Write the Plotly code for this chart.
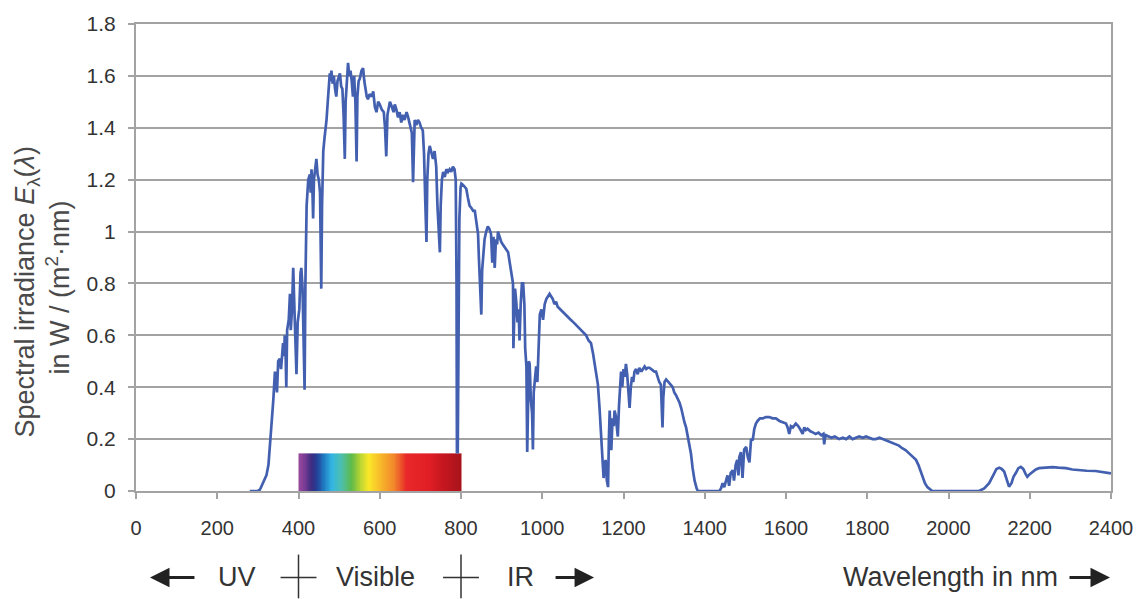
import numpy as np
import plotly.graph_objects as go

# ---- data: AM1.5 spectral irradiance ----
wavelength_nm = [
    280, 300, 305, 312, 321, 326, 329, 333, 338, 342, 345, 347, 350, 354, 357, 360, 362, 365, 366, 368,
    370, 372, 376, 379, 381, 384, 387, 390, 392, 395, 398, 402, 405, 407, 410, 413, 415, 417, 420, 424,
    428, 430, 432, 434, 436, 438, 441, 444, 447, 450, 453, 455, 456, 458, 461, 464, 467, 469, 472, 475,
    477, 479, 481, 484, 487, 490, 493, 496, 499, 502, 505, 508, 511, 514, 516, 519, 522, 525, 528, 531,
    534, 537, 540, 543, 545, 548, 551, 555, 559, 562, 565, 568, 571, 575, 580, 584, 588, 592, 596, 600,
    605, 610, 613, 616, 619, 622, 625, 630, 634, 637, 641, 645, 649, 653, 657, 661, 666, 670, 675, 679,
    682, 684, 686, 690, 694, 698, 702, 706, 709, 712, 715, 717, 720, 723, 727, 731, 735, 739, 742, 745,
    748, 750, 753, 756, 760, 764, 768, 772, 776, 780, 784, 787, 789, 790, 792, 794, 796, 799, 801, 805,
    809, 813, 817, 821, 826, 830, 834, 838, 842, 844, 846, 848, 850, 852, 855, 858, 862, 866, 870, 874,
    877, 880, 883, 886, 889, 891, 895, 899, 903, 908, 912, 916, 920, 924, 928, 929, 931, 933, 936, 939,
    942, 944, 947, 950, 953, 956, 958, 961, 963, 965, 967, 969, 972, 975, 977, 979, 982, 985, 988, 991,
    994, 998, 1002, 1006, 1010, 1014, 1018, 1022, 1026, 1030, 1034, 1038, 1044, 1050, 1056, 1063, 1070, 1077, 1083, 1090,
    1096, 1102, 1108, 1114, 1120, 1125, 1129, 1133, 1137, 1141, 1145, 1149, 1151, 1153, 1156, 1159, 1162, 1164, 1166, 1168,
    1170, 1173, 1176, 1178, 1181, 1184, 1186, 1189, 1192, 1194, 1197, 1200, 1203, 1206, 1209, 1212, 1215, 1218, 1221, 1224,
    1227, 1231, 1235, 1239, 1244, 1248, 1252, 1256, 1260, 1264, 1268, 1272, 1276, 1280, 1284, 1288, 1292, 1294, 1296, 1298,
    1301, 1305, 1308, 1312, 1316, 1321, 1325, 1329, 1334, 1338, 1342, 1346, 1350, 1354, 1358, 1362, 1366, 1370, 1375, 1380,
    1383, 1400, 1420, 1436, 1440, 1444, 1448, 1452, 1456, 1460, 1464, 1469, 1472, 1476, 1480, 1483, 1485, 1489, 1493, 1497,
    1502, 1506, 1510, 1514, 1518, 1522, 1526, 1530, 1536, 1543, 1550, 1559, 1567, 1575, 1584, 1592, 1600, 1604, 1608, 1612,
    1617, 1624, 1630, 1636, 1641, 1645, 1649, 1653, 1660, 1667, 1673, 1680, 1687, 1692, 1694, 1696, 1698, 1705, 1712, 1720,
    1731, 1740, 1748, 1756, 1764, 1772, 1780, 1789, 1797, 1805, 1813, 1821, 1830, 1838, 1846, 1854, 1862, 1870, 1878, 1886,
    1895, 1903, 1912, 1920, 1926, 1932, 1936, 1942, 1948, 1953, 1960, 2000, 2075, 2088, 2100, 2110, 2118, 2125, 2131, 2137,
    2143, 2149, 2155, 2160, 2166, 2172, 2178, 2184, 2190, 2194, 2200, 2207, 2215, 2223, 2235, 2245, 2256, 2270, 2289, 2305,
    2321, 2340, 2362, 2380, 2400,
]
irradiance = [
    0.0, 0.0, 0.005, 0.03, 0.06, 0.1, 0.157, 0.25, 0.35, 0.46, 0.42, 0.38, 0.50, 0.51, 0.47, 0.56, 0.57, 0.52, 0.60, 0.55,
    0.40, 0.62, 0.66, 0.76, 0.62, 0.70, 0.86, 0.70, 0.55, 0.45, 0.65, 0.70, 0.84, 0.86, 0.78, 0.50, 0.39, 0.80, 1.10, 1.20,
    1.22, 1.15, 1.24, 1.18, 1.05, 1.20, 1.25, 1.28, 1.22, 1.20, 1.15, 0.90, 0.78, 1.10, 1.31, 1.36, 1.40, 1.43, 1.50, 1.55,
    1.61, 1.58, 1.62, 1.57, 1.60, 1.55, 1.52, 1.58, 1.60, 1.61, 1.56, 1.55, 1.45, 1.28, 1.50, 1.60, 1.65, 1.60, 1.62, 1.58,
    1.52, 1.60, 1.50, 1.27, 1.52, 1.58, 1.59, 1.62, 1.63, 1.58, 1.55, 1.52, 1.51, 1.53, 1.52, 1.54, 1.48, 1.46, 1.50, 1.49,
    1.47, 1.46, 1.40, 1.29, 1.45, 1.48, 1.50, 1.48, 1.46, 1.49, 1.47, 1.44, 1.46, 1.42, 1.45, 1.43, 1.46, 1.44, 1.41, 1.38,
    1.19, 1.38, 1.43, 1.41, 1.43, 1.42, 1.40, 1.39, 1.30, 1.12, 0.96, 1.20, 1.30, 1.33, 1.30, 1.28, 1.31, 1.25, 1.10, 1.00,
    0.92, 1.10, 1.20, 1.23, 1.21, 1.24, 1.23, 1.24, 1.23, 1.25, 1.24, 1.20, 0.80, 0.15, 0.15, 0.60, 1.05, 1.17, 1.185, 1.18,
    1.17, 1.165, 1.13, 1.10, 1.09, 1.08, 1.08, 1.04, 0.99, 0.90, 0.83, 0.75, 0.68, 0.85, 0.93, 0.97, 1.00, 1.02, 1.01, 0.99,
    0.88, 0.98, 0.86, 0.97, 0.95, 1.00, 0.98, 0.96, 0.95, 0.94, 0.93, 0.92, 0.88, 0.83, 0.80, 0.55, 0.70, 0.78, 0.73, 0.65,
    0.70, 0.58, 0.72, 0.80, 0.80, 0.72, 0.55, 0.48, 0.15, 0.40, 0.50, 0.49, 0.35, 0.30, 0.16, 0.38, 0.45, 0.48, 0.42, 0.60,
    0.68, 0.70, 0.66, 0.72, 0.74, 0.75, 0.76, 0.75, 0.74, 0.72, 0.73, 0.71, 0.70, 0.69, 0.68, 0.67, 0.66, 0.65, 0.64, 0.63,
    0.62, 0.61, 0.60, 0.58, 0.57, 0.53, 0.49, 0.45, 0.41, 0.32, 0.22, 0.14, 0.05, 0.09, 0.12, 0.04, 0.015, 0.20, 0.31, 0.22,
    0.157, 0.28, 0.25, 0.31, 0.29, 0.24, 0.21, 0.33, 0.44, 0.46, 0.40, 0.47, 0.44, 0.49, 0.45, 0.38, 0.32, 0.40, 0.44, 0.42,
    0.46, 0.47, 0.45, 0.475, 0.46, 0.47, 0.48, 0.47, 0.475, 0.475, 0.47, 0.465, 0.46, 0.46, 0.44, 0.42, 0.41, 0.33, 0.245, 0.36,
    0.42, 0.43, 0.425, 0.42, 0.41, 0.40, 0.38, 0.37, 0.355, 0.34, 0.32, 0.29, 0.265, 0.245, 0.21, 0.17, 0.145, 0.09, 0.04, 0.01,
    0.0, 0.0, 0.0, 0.0, 0.01, 0.03, 0.015, 0.04, 0.06, 0.02, 0.07, 0.08, 0.04, 0.10, 0.12, 0.06, 0.13, 0.15, 0.05, 0.16,
    0.17, 0.13, 0.11, 0.20, 0.195, 0.24, 0.26, 0.27, 0.28, 0.28, 0.285, 0.285, 0.28, 0.28, 0.27, 0.265, 0.26, 0.245, 0.22, 0.25,
    0.245, 0.26, 0.25, 0.235, 0.22, 0.245, 0.235, 0.24, 0.23, 0.225, 0.22, 0.225, 0.215, 0.22, 0.18, 0.205, 0.215, 0.21, 0.205, 0.21,
    0.20, 0.205, 0.20, 0.21, 0.20, 0.205, 0.21, 0.205, 0.21, 0.205, 0.20, 0.20, 0.205, 0.20, 0.195, 0.19, 0.185, 0.18, 0.175, 0.165,
    0.157, 0.145, 0.13, 0.12, 0.10, 0.075, 0.055, 0.03, 0.015, 0.01, 0.0, 0.0, 0.0, 0.01, 0.03, 0.06, 0.085, 0.09, 0.085, 0.075,
    0.045, 0.017, 0.03, 0.055, 0.07, 0.088, 0.093, 0.085, 0.065, 0.055, 0.065, 0.075, 0.083, 0.088, 0.09, 0.092, 0.092, 0.09, 0.088, 0.083,
    0.08, 0.078, 0.077, 0.072, 0.068,
]

# visible-light colour band
band_range_nm = [400, 800]
band_height = 0.145
band_stop_nm = [400, 415, 432, 445, 462, 482, 505, 530, 552, 572, 600, 635, 665, 720, 760, 800]
band_stop_color = ["#9a4b9d", "#7a3c94", "#3a2c80", "#243f97", "#1f7ac2", "#33b6e2", "#4dbfae", "#5dba4a",
                   "#b9d532", "#fbe828", "#f8bb2a", "#f2862b", "#e8282a", "#e01e25", "#c2161f", "#a8131b"]

# axis ticks
x_ticks = list(range(0, 2401, 200))
y_ticks = [0, 0.2, 0.4, 0.6, 0.8, 1.0, 1.2, 1.4, 1.6, 1.8]
region_bounds_nm = [400, 800]
region_labels = [("UV", 248), ("Visible", 590), ("IR", 947)]

# ---- figure ----
W, H = 1145, 599
L, R, T, B = 136, 32, 21, 108
pw, ph = W - L - R, H - T - B

def px_x(px):
    return (px - L) / pw

def px_y(py):
    return (H - B - py) / ph

fig = go.Figure()

fig.add_trace(go.Scatter(
    x=wavelength_nm, y=irradiance, mode="lines",
    line=dict(color="#4360b0", width=2.7), hoverinfo="skip", showlegend=False,
))

edges = np.linspace(band_range_nm[0], band_range_nm[1], 201)
centers = (edges[:-1] + edges[1:]) / 2
span = band_range_nm[1] - band_range_nm[0]
colorscale = [[(s - band_range_nm[0]) / span, c] for s, c in zip(band_stop_nm, band_stop_color)]
fig.add_trace(go.Heatmap(
    x=edges, y=[0, band_height], z=[centers], colorscale=colorscale,
    zmin=band_range_nm[0], zmax=band_range_nm[1], showscale=False, hoverinfo="skip",
))

grid_col = "#a3a3a3"
tick_font = dict(family="Liberation Sans, Arial, sans-serif", size=20, color="#333333")
fig.update_xaxes(
    range=[0, 2400], tickvals=x_ticks, ticks="outside", ticklen=6, tickwidth=2, tickcolor=grid_col,
    showline=True, linecolor=grid_col, linewidth=2, mirror=True, showgrid=False, zeroline=False,
    tickfont=tick_font, ticklabelstandoff=12,
)
fig.update_yaxes(
    range=[0, 1.8], tickvals=y_ticks, ticks="outside", ticklen=6, tickwidth=2, tickcolor=grid_col,
    showline=True, linecolor=grid_col, linewidth=2, mirror=True, showgrid=True, gridcolor=grid_col,
    gridwidth=2, zeroline=False, tickfont=dict(tick_font, size=21), ticklabelstandoff=8,
)

txt_font = dict(family="Liberation Sans, Arial, sans-serif", size=27, color="#333333")
title_font = dict(family="Liberation Sans, Arial, sans-serif", size=27, color="#4a4a4a")
ann = []
# y-axis title (two lines)
ann.append(dict(text="Spectral irradiance <i>E</i><sub>λ</sub>(<i>λ</i>)", textangle=-90,
                xref="paper", yref="paper", x=px_x(27), y=px_y(291), xanchor="center", yanchor="middle",
                showarrow=False, font=title_font))
ann.append(dict(text="in W / (m<sup>2</sup>·nm)", textangle=-90,
                xref="paper", yref="paper", x=px_x(58), y=px_y(286), xanchor="center", yanchor="middle",
                showarrow=False, font=title_font))
# region labels
row_y = px_y(578)
for label, xc in region_labels:
    ann.append(dict(text=label, xref="x", yref="paper", x=xc, y=row_y, xanchor="center", yanchor="middle",
                    showarrow=False, font=txt_font))
ann.append(dict(text="Wavelength in nm", xref="paper", yref="paper", x=px_x(1062), y=row_y,
                xanchor="right", yanchor="middle", showarrow=False, font=txt_font))
# arrows (tip, tail offset in px)
for tip_px, dx in [(150, 46), (595, -40), (1112, -42)]:
    ann.append(dict(text="", xref="paper", yref="paper", x=px_x(tip_px), y=row_y, ax=dx, ay=0,
                    showarrow=True, arrowhead=2, arrowsize=1.3, arrowwidth=3, arrowcolor="#222222",
                    standoff=0, startstandoff=0))
fig.update_layout(annotations=ann)

# region separators (crosses)
shapes = []
half_nm = 18 / (pw / 2400)
for b in region_bounds_nm:
    shapes.append(dict(type="line", xref="x", yref="paper", x0=b, x1=b, y0=px_y(555), y1=px_y(599),
                       line=dict(color="#333333", width=1.5)))
    shapes.append(dict(type="line", xref="x", yref="paper", x0=b - half_nm, x1=b + half_nm,
                       y0=row_y, y1=row_y, line=dict(color="#333333", width=1.5)))
fig.update_layout(shapes=shapes)

fig.update_layout(
    width=W, height=H, margin=dict(l=L, r=R, t=T, b=B),
    plot_bgcolor="white", paper_bgcolor="white", showlegend=False,
)

fig.write_html("out.html")
